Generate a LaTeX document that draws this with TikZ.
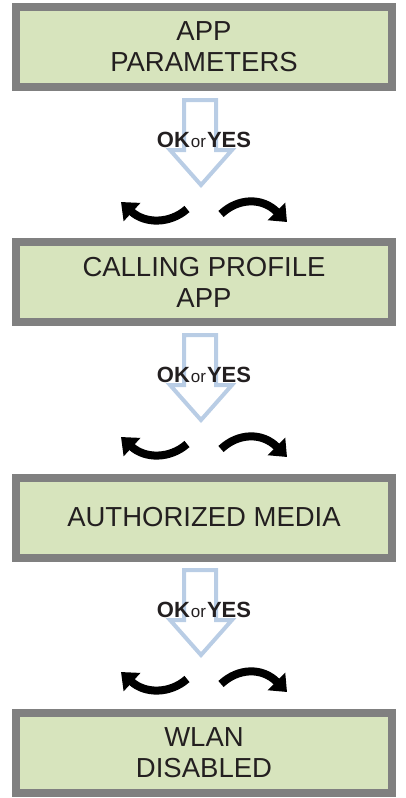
\documentclass[tikz,border=0pt]{standalone}
\usepackage{fontspec}
\setmainfont{Liberation Sans}
\usetikzlibrary{arrows.meta}

\begin{document}
\begin{tikzpicture}[x=1pt,y=-1pt,line join=miter]

    \definecolor{screencolor}{HTML}{D7E4BD}
    \definecolor{framecolor}{HTML}{808080}
    \definecolor{okcolor}{HTML}{B9CDE5}
    \definecolor{inkcolor}{HTML}{231F20}

    \tikzset{
        screen/.style={draw=framecolor, line width=8pt, fill=screencolor,
            minimum width=376pt, minimum height=80pt, align=center,
            text=inkcolor, font=\fontsize{27.5}{31}\selectfont},
        okarrow/.style={draw=okcolor, line width=4pt},
        navarrow/.style={line width=8pt, -{Triangle[width=24pt,length=15pt]}},
        oklabel/.style={text=inkcolor, inner sep=0pt}
    }

    \useasboundingbox (0,0) rectangle (406,798);

    % the four screens
    \node[screen] (app) at (204,47) {APP\\PARAMETERS};
    \node[screen] (calling) at (204,282) {CALLING PROFILE\\APP};
    \node[screen] (media) at (204,517.5) {AUTHORIZED MEDIA};
    \node[screen] (wlan) at (204,753) {WLAN\\DISABLED};

    % first step
    \begin{scope}[yshift=0pt]
        \draw[okarrow] (184,100) -- (184,150) -- (170,150) -- (201,185)
            -- (232,150) -- (216,150) -- (216,100) -- cycle;
        \node[oklabel] (ok1) at (204,140)
            {\fontsize{22}{22}\selectfont\bfseries OK\kern1pt{\mdseries\fontsize{17}{17}\selectfont or}\kern1pt YES};
        \draw[navarrow] (187,209) .. controls (170,224) and (145,224) .. (121,202);
        \draw[navarrow] (221,214) .. controls (238,198) and (262,197) .. (287,222);
    \end{scope}

    % second step
    \begin{scope}[yshift=-235pt]
        \draw[okarrow] (184,100) -- (184,150) -- (170,150) -- (201,185)
            -- (232,150) -- (216,150) -- (216,100) -- cycle;
        \node[oklabel] (ok2) at (204,140)
            {\fontsize{22}{22}\selectfont\bfseries OK\kern1pt{\mdseries\fontsize{17}{17}\selectfont or}\kern1pt YES};
        \draw[navarrow] (187,209) .. controls (170,224) and (145,224) .. (121,202);
        \draw[navarrow] (221,214) .. controls (238,198) and (262,197) .. (287,222);
    \end{scope}

    % third step
    \begin{scope}[yshift=-470pt]
        \draw[okarrow] (184,100) -- (184,150) -- (170,150) -- (201,185)
            -- (232,150) -- (216,150) -- (216,100) -- cycle;
        \node[oklabel] (ok3) at (204,140)
            {\fontsize{22}{22}\selectfont\bfseries OK\kern1pt{\mdseries\fontsize{17}{17}\selectfont or}\kern1pt YES};
        \draw[navarrow] (187,209) .. controls (170,224) and (145,224) .. (121,202);
        \draw[navarrow] (221,214) .. controls (238,198) and (262,197) .. (287,222);
    \end{scope}

\end{tikzpicture}
\end{document}
